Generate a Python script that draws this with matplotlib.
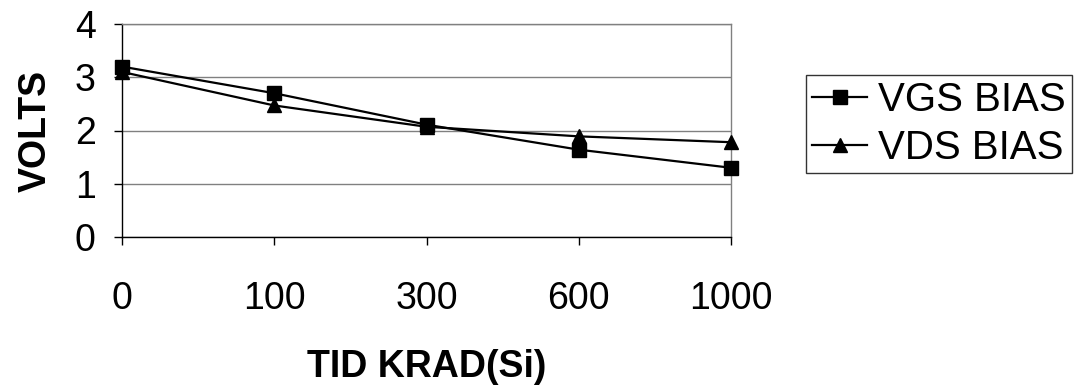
import matplotlib

matplotlib.use("Agg")
import matplotlib.pyplot as plt

TID_LABELS = ["0", "100", "300", "600", "1000"]
VGS_BIAS = [3.20, 2.70, 2.11, 1.64, 1.30]
VDS_BIAS = [3.10, 2.47, 2.07, 1.89, 1.78]

plt.rcParams["font.family"] = ["Liberation Sans", "DejaVu Sans"]

fig = plt.figure(figsize=(10.76, 3.87), dpi=100)
ax = fig.add_axes([122 / 1076, 150 / 387, 609 / 1076, 213 / 387])

xs = range(len(TID_LABELS))
ax.plot(xs, VGS_BIAS, color="black", linewidth=1.6, marker="s", markersize=10,
        label="VGS BIAS", clip_on=False, zorder=4)
ax.plot(xs, VDS_BIAS, color="black", linewidth=1.6, marker="^", markersize=10,
        label="VDS BIAS", clip_on=False, zorder=3)

ax.set_xlim(0, len(TID_LABELS) - 1)
ax.set_ylim(0, 4)
ax.set_xticks(list(xs))
ax.set_xticklabels(TID_LABELS)
ax.set_yticks([0, 1, 2, 3, 4])

# grey plot-area frame and gridlines, black value/category axes
ax.yaxis.grid(True, color="#808080", linewidth=1.0)
ax.set_axisbelow(True)
for side in ("top", "right"):
    ax.spines[side].set_color("#808080")
    ax.spines[side].set_linewidth(1.0)
for side in ("left", "bottom"):
    ax.spines[side].set_color("black")
    ax.spines[side].set_linewidth(1.0)

ax.tick_params(axis="y", direction="out", length=6, width=1, pad=13, labelsize=27)
ax.tick_params(axis="x", direction="out", length=6, width=1, pad=26, labelsize=27)

ax.set_xlabel("TID KRAD(Si)", fontsize=27, fontweight="bold", labelpad=23)
ax.set_ylabel("VOLTS", fontsize=27, fontweight="bold", labelpad=15)

leg = ax.legend(loc="upper left", bbox_to_anchor=(806 / 1076, 1 - 75 / 387),
                bbox_transform=fig.transFigure, fontsize=29,
                frameon=True, fancybox=False, handlelength=1.37, handletextpad=0.27,
                borderpad=0.15, labelspacing=0.25, borderaxespad=0)
leg.get_frame().set_edgecolor("black")
leg.get_frame().set_linewidth(1.0)

fig.savefig("out.png", dpi=100)
